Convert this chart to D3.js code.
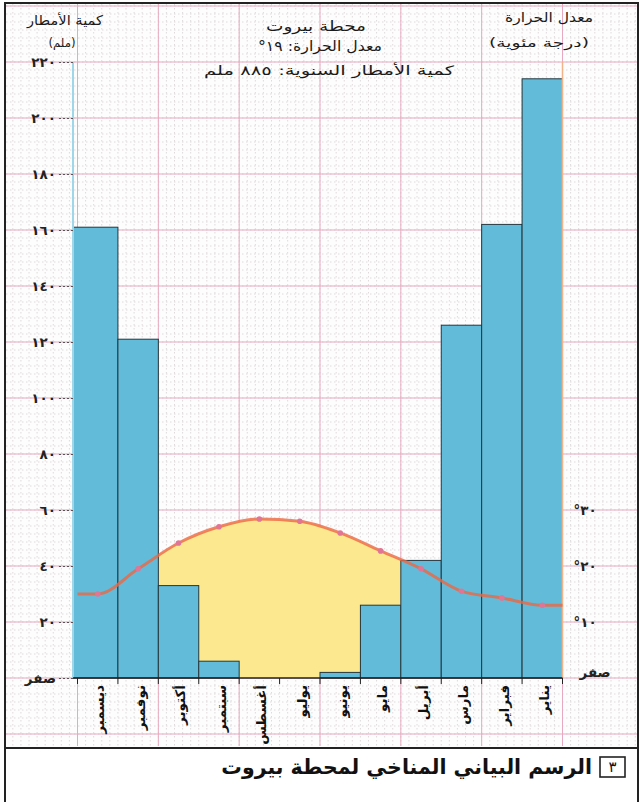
<!DOCTYPE html>
<html lang="ar">
<head>
<meta charset="utf-8">
<script src="https://cdn.jsdelivr.net/npm/d3@7"></script>
<style>
  html, body { margin: 0; padding: 0; background: #ffffff; }
  svg { display: block; font-family: "DejaVu Sans", sans-serif; }
</style>
</head>
<body>
<svg id="chart" width="639" height="802"></svg>
<script>
// ---------------- DATA ----------------
const months = ["يناير","فبراير","مارس","أبريل","مايو","يونيو","يوليو","أغسطس","سبتمبر","أكتوبر","نوفمبر","ديسمبر"];
const precipitation = [214, 162, 126, 42, 26, 2, 0, 0, 6, 33, 121, 161];          // mm
const temperature   = [13, 14.3, 15.5, 19.5, 22.7, 25.9, 28, 28.4, 27, 24.1, 19.5, 15]; // °C
const precipTicks = [0, 20, 40, 60, 80, 100, 120, 140, 160, 180, 200, 220];
const precipTickLabels = ["صفر","٢٠","٤٠","٦٠","٨٠","١٠٠","١٢٠","١٤٠","١٦٠","١٨٠","٢٠٠","٢٢٠"];
const tempTicks = [0, 10, 20, 30];
const tempTickLabels = ["صفر","١٠°","٢٠°","٣٠°"];
const stationTitle = "محطة بيروت";
const meanTempText = "معدل الحرارة: ١٩°";
const annualRainText = "كمية الأمطار السنوية: ٨٨٥ ملم";
const leftAxisTitle = ["كمية الأمطار", "(ملم)"];
const rightAxisTitle = ["معدل الحرارة", "(درجة مئوية)"];
const captionNumber = "٣";
const captionText = "الرسم البياني المناخي لمحطة بيروت";

// ---------------- LAYOUT ----------------
const W = 639, H = 802;
const svg = d3.select("#chart");
const axisX = 73, plotLeft = 77.5, plotRight = 562.5;
const yZero = 678, yTop = 62;

const order = months.slice().reverse(); // left-to-right: Dec ... Jan
const P = new Map(months.map((m, i) => [m, precipitation[i]]));
const T = new Map(months.map((m, i) => [m, temperature[i]]));

const x = d3.scaleBand().domain(order).range([plotLeft, plotRight]).padding(0);
const bw = x.bandwidth();
const y = d3.scaleLinear().domain([0, 220]).range([yZero, yTop]);
const yT = d3.scaleLinear().domain([0, 110]).range([yZero, yTop]);

// ---------------- GRAPH PAPER ----------------
svg.append("rect").attr("x", 0).attr("y", 0).attr("width", W).attr("height", H).attr("fill", "#fefdfd");
const paper = svg.append("g");
const stepY = Math.abs(y(20) - y(0));
const stepX = bw * 2;
const minorG = paper.append("g").attr("stroke", "#d6d0d3").attr("stroke-width", 0.8).attr("stroke-dasharray", "1.5,2.5");
for (let yy = yZero + stepY; yy >= 4; yy -= stepY / 7) {
  if (yy > 746) continue;
  minorG.append("line").attr("x1", 6).attr("x2", 637).attr("y1", yy).attr("y2", yy);
}
for (let xx = plotLeft - stepX; xx <= 637; xx += stepX / 10) {
  if (xx < 6) continue;
  minorG.append("line").attr("x1", xx).attr("x2", xx).attr("y1", 4).attr("y2", 746);
}
const majorG = paper.append("g").attr("stroke", "#e6a9bf").attr("stroke-width", 1);
for (let yy = yZero + stepY; yy >= 4; yy -= stepY) {
  if (yy > 746) continue;
  majorG.append("line").attr("x1", 6).attr("x2", 637).attr("y1", yy).attr("y2", yy);
}
for (let xx = plotLeft; xx <= 637; xx += stepX) {
  majorG.append("line").attr("x1", xx).attr("x2", xx).attr("y1", 4).attr("y2", 746);
}

// ---------------- TEMPERATURE CURVE POINTS ----------------
const pts = [{ x: plotLeft, t: T.get(order[0]) }]
  .concat(order.map(m => ({ x: x(m) + bw / 2, t: T.get(m), m })))
  .concat([{ x: plotRight, t: T.get(order[order.length - 1]) }]);

// dry months: 2 × temperature > precipitation
const dry = order.filter(m => P.get(m) < 2 * T.get(m));
const dryX0 = x(dry[0]), dryX1 = x(dry[dry.length - 1]) + bw;

svg.append("clipPath").attr("id", "dryClip")
  .append("rect").attr("x", dryX0).attr("y", 0).attr("width", dryX1 - dryX0).attr("height", yZero);

const area = d3.area().x(d => d.x).y0(y(0)).y1(d => yT(d.t)).curve(d3.curveMonotoneX);
svg.append("path").datum(pts).attr("d", area)
  .attr("fill", "#fce88e").attr("clip-path", "url(#dryClip)");

// ---------------- BARS ----------------
svg.append("g").selectAll("rect").data(order).join("rect")
  .attr("x", (m, i) => i === 0 ? axisX : x(m))
  .attr("width", (m, i) => i === 0 ? x(m) + bw - axisX : bw)
  .attr("y", m => y(P.get(m)))
  .attr("height", m => y(0) - y(P.get(m)))
  .attr("fill", "#62bcd9")
  .attr("stroke", "#24363d")
  .attr("stroke-width", 1);

// ---------------- AXES ----------------
svg.append("line").attr("x1", axisX).attr("x2", axisX).attr("y1", yTop).attr("y2", yZero)
  .attr("stroke", "#9fd6e8").attr("stroke-width", 2);
svg.append("line").attr("x1", plotRight).attr("x2", plotRight).attr("y1", yTop).attr("y2", yZero)
  .attr("stroke", "#f3b38a").attr("stroke-width", 1.5);

const leftAxis = d3.axisLeft(y).tickValues(precipTicks)
  .tickFormat((d, i) => precipTickLabels[i]).tickSize(15).tickPadding(2);
const gL = svg.append("g").attr("transform", `translate(${axisX},0)`).call(leftAxis);
gL.select(".domain").remove();
gL.selectAll(".tick line").attr("stroke", "#555").attr("stroke-dasharray", "2,2");
gL.selectAll(".tick text").attr("font-size", 13.5).attr("font-weight", "bold").attr("fill", "#222")
  .attr("font-family", "DejaVu Sans");

const rightAxis = d3.axisRight(yT).tickValues(tempTicks)
  .tickFormat((d, i) => tempTickLabels[i]).tickSize(0).tickPadding(11);
const gR = svg.append("g").attr("transform", `translate(${plotRight},0)`).call(rightAxis);
gR.select(".domain").remove();
gR.selectAll(".tick text")
  .attr("direction", "rtl").attr("text-anchor", "end")
  .attr("font-size", 13.5).attr("font-weight", "bold").attr("fill", "#222")
  .attr("font-family", "DejaVu Sans").attr("dy", d => d === 0 ? "-0.1em" : "0.32em")
  .attr("dx", d => d === 0 ? 6 : 0);

// x axis
const bottomAxis = d3.axisBottom(x).tickSize(0).tickFormat("");
const gB = svg.append("g").attr("transform", `translate(0,${yZero})`).call(bottomAxis);
gB.select(".domain").attr("stroke", "#222").attr("stroke-width", 1.5)
  .attr("d", `M${axisX},0H${plotRight}`);
const bounds = order.map(m => x(m)).concat([plotRight]);
gB.selectAll(".bt").data(bounds).join("line").attr("class", "bt")
  .attr("x1", d => d).attr("x2", d => d).attr("y1", 0).attr("y2", 6)
  .attr("stroke", "#222").attr("stroke-width", 1);

// month labels (rotated)
svg.append("g").selectAll("text").data(order).join("text")
  .attr("transform", m => `translate(${x(m) + bw / 2 + 2},${yZero + 7}) rotate(-90)`)
  .attr("text-anchor", "end").attr("dy", "0.35em")
  .attr("font-size", 13.5).attr("font-weight", "bold").attr("fill", "#111")
  .text(m => m);

// ---------------- TEMPERATURE LINE ----------------
const line = d3.line().x(d => d.x).y(d => yT(d.t)).curve(d3.curveMonotoneX);
svg.append("path").datum(pts).attr("d", line)
  .attr("fill", "none").attr("stroke", "#ec6844").attr("stroke-width", 3)
  .attr("stroke-opacity", 0.8);
svg.append("g").selectAll("circle").data(pts.filter(d => d.m)).join("circle")
  .attr("cx", d => d.x).attr("cy", d => yT(d.t)).attr("r", 2.8)
  .attr("fill", "#e07595");

// ---------------- TITLES ----------------
const tg = svg.append("g").attr("fill", "#1a1a1a").attr("direction", "rtl");
function title(txt, cx, yy, size, len) {
  tg.append("text").attr("x", cx + len / 2).attr("y", yy).attr("font-size", size)
    .attr("text-anchor", "start")
    .attr("textLength", len).attr("lengthAdjust", "spacingAndGlyphs").text(txt);
}
title(stationTitle, 316, 31, 14, 100);
title(meanTempText, 320, 51, 14, 124);
title(annualRainText, 329, 75, 13, 250);
title(leftAxisTitle[0], 65, 25, 13.5, 76);
title(leftAxisTitle[1], 62, 47, 12, 27);
title(rightAxisTitle[0], 549, 22, 13.5, 88);
title(rightAxisTitle[1], 539, 47, 12, 100);

// ---------------- CAPTION ----------------
svg.append("rect").attr("x", 0).attr("y", 748).attr("width", W).attr("height", H - 748).attr("fill", "#ffffff");
svg.append("line").attr("x1", 5).attr("x2", 638).attr("y1", 748).attr("y2", 748)
  .attr("stroke", "#222").attr("stroke-width", 2);
svg.append("rect").attr("x", 600).attr("y", 757).attr("width", 25).attr("height", 20)
  .attr("fill", "none").attr("stroke", "#222").attr("stroke-width", 1.6);
svg.append("text").attr("x", 612.5).attr("y", 767).attr("dy", "0.36em").attr("text-anchor", "middle")
  .attr("font-size", 15).attr("fill", "#111").text(captionNumber);
svg.append("text").attr("x", 592).attr("y", 767).attr("dy", "0.36em").attr("text-anchor", "end")
  .attr("font-size", 20.5).attr("font-weight", "bold").attr("fill", "#111").text(captionText);

// ---------------- FRAME ----------------
svg.append("path").attr("d", `M5,${H}V3H638V${H}`)
  .attr("fill", "none").attr("stroke", "#222").attr("stroke-width", 2);
</script>
</body>
</html>
